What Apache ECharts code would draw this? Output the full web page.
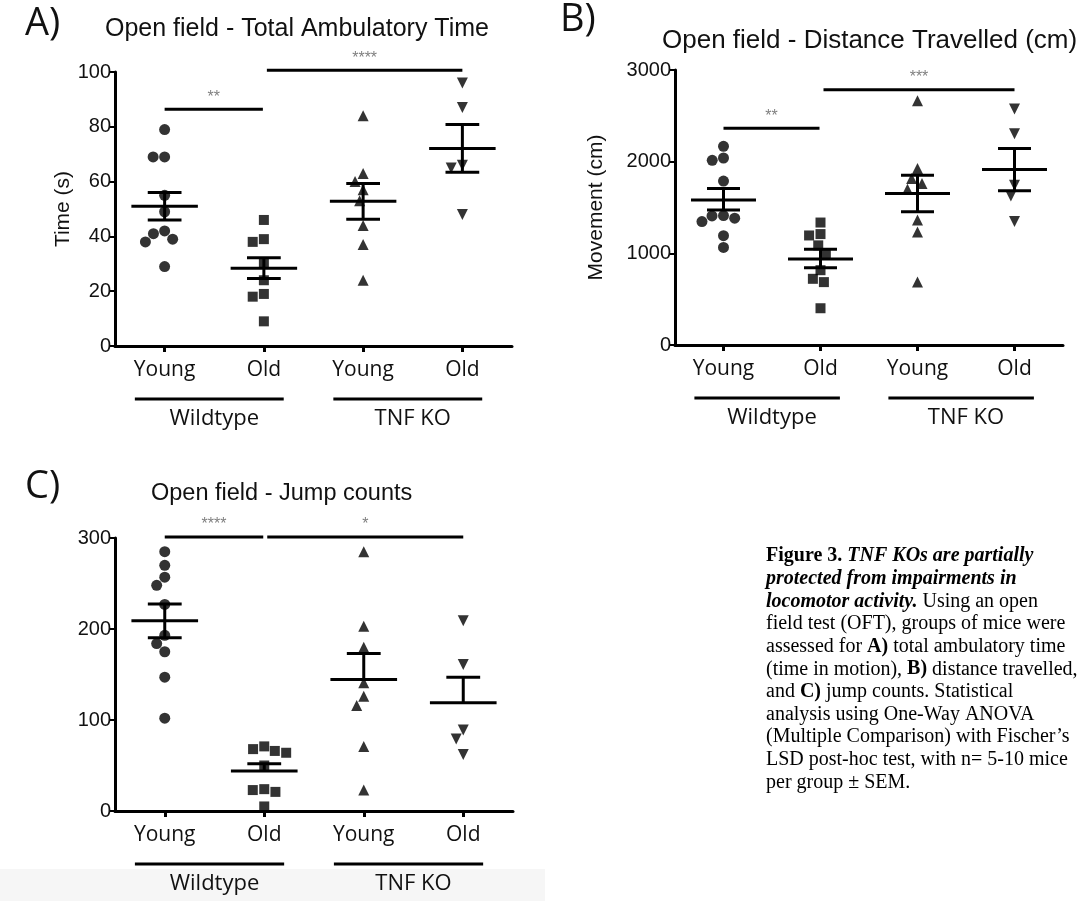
<!DOCTYPE html>
<html><head><meta charset="utf-8">
<script src="https://cdn.jsdelivr.net/npm/echarts@6/dist/echarts.min.js"></script>
<style>html,body{margin:0;padding:0;background:#fff}#chart{width:1091px;height:901px}</style>
</head><body><div id="chart"></div>
<script>
// ---------- data ----------
const categories = ['Young', 'Old', 'Young', 'Old'];
const groupNames = ['Wildtype', 'TNF KO'];
const groupFrom = [0, 2];
const groupTo = [1, 3];

// A) Total ambulatory time (s)
const timeWTYoung = [79, 69, 69, 55, 49, 42, 41, 39, 38, 29];
const timeWTOld = [46, 39, 38, 30, 24, 19, 18, 9];
const timeKOYoung = [84, 63, 60, 57, 53, 44, 37, 24];
const timeKOOld = [96, 87, 66, 65, 48];
const timeMean = [51, 28.4, 52.8, 72.1];
const timeSemUp = [5, 3.8, 6.5, 8.7];
const timeSemDown = [5, 3.8, 6.5, 8.7];
const timeSigFrom = [0, 1];
const timeSigTo = [1, 3];
const timeSigLevel = [86.4, 100.6];
const timeSigLabel = ['**', '****'];

// B) Distance travelled (cm)
const distWTYoung = [2167, 2040, 2015, 1788, 1412, 1408, 1383, 1347, 1192, 1065];
const distWTOld = [1336, 1210, 1195, 1087, 993, 816, 722, 686, 401];
const distKOYoung = [2665, 1925, 1817, 1762, 1700, 1365, 1232, 686];
const distKOOld = [2575, 2304, 1744, 1625, 1347];
const distMean = [1582, 939, 1654, 1914];
const distSemUp = [124, 106, 199, 231];
const distSemDown = [110, 97, 199, 231];
const distSigFrom = [0, 1];
const distSigTo = [1, 3];
const distSigLevel = [2365, 2784];
const distSigLabel = ['**', '***'];

// C) Jump counts
const jumpWTYoung = [285, 270, 257, 248, 227, 193, 184, 175, 147, 102];
const jumpWTOld = [71, 68, 66, 64, 50, 24, 23, 21, 5];
const jumpKOYoung = [285, 203, 180, 141, 126, 116, 71, 23];
const jumpKOOld = [209, 161, 89, 79, 62];
const jumpMean = [209, 44, 144.5, 119];
const jumpSemUp = [18.5, 8, 28.5, 28];
const jumpSemDown = [18.5, 0, 0, 0];
const jumpSigFrom = [0, 1];
const jumpSigTo = [1, 3];
const jumpSigLevel = [301, 301];
const jumpSigLabel = ['****', '*'];

// ---------- layout / style ----------
const SANS = '"Liberation Sans", Arial, sans-serif';
const HUMAN = '"Open Sans", "Noto Sans", sans-serif';
const SERIF = '"Liberation Serif", "Times New Roman", serif';
const symbols = ['circle', 'rect', 'triangle', 'triangle'];
const symbolRot = [0, 0, 0, 180];
const symbolSizes = [11, 10, 11, 11];

const panels = [
  { grid: { left: 115, top: 72, width: 397, height: 274 }, max: 100, interval: 20, yName: 'Time (s)', nameGap: 32,
    groups: [timeWTYoung, timeWTOld, timeKOYoung, timeKOOld], mean: timeMean, up: timeSemUp, down: timeSemDown,
    sigFrom: timeSigFrom, sigTo: timeSigTo, sigLevel: timeSigLevel, sigLabel: timeSigLabel },
  { grid: { left: 675, top: 70, width: 388, height: 275 }, max: 3000, interval: 1000, yName: 'Movement (cm)', nameGap: 68,
    groups: [distWTYoung, distWTOld, distKOYoung, distKOOld], mean: distMean, up: distSemUp, down: distSemDown,
    sigFrom: distSigFrom, sigTo: distSigTo, sigLevel: distSigLevel, sigLabel: distSigLabel },
  { grid: { left: 115, top: 538, width: 398, height: 273 }, max: 300, interval: 100, yName: '', nameGap: 40,
    groups: [jumpWTYoung, jumpWTOld, jumpKOYoung, jumpKOOld], mean: jumpMean, up: jumpSemUp, down: jumpSemDown,
    sigFrom: jumpSigFrom, sigTo: jumpSigTo, sigLevel: jumpSigLevel, sigLabel: jumpSigLabel }
];

// beeswarm layout: horizontal pixel offsets so that markers do not overlap
function swarm(vals, pxPerUnit, D) {
  const order = vals.map((v, i) => i).sort((a, b) => vals[b] - vals[a]);
  const placed = [];
  const off = new Array(vals.length).fill(0);
  for (const i of order) {
    const y = vals[i] * pxPerUnit;
    const forb = [];
    for (const p of placed) {
      const dy = Math.abs(p.y - y);
      if (dy < D) { const h = Math.sqrt(D * D - dy * dy); forb.push([p.x - h, p.x + h]); }
    }
    const cands = [0];
    forb.forEach(f => cands.push(f[0], f[1]));
    cands.sort((a, b) => (Math.abs(a) - Math.abs(b)) || (a - b));
    let x = 0;
    for (const c of cands) {
      if (forb.every(f => c <= f[0] + 1e-6 || c >= f[1] - 1e-6)) { x = c; break; }
    }
    placed.push({ x, y });
    off[i] = x;
  }
  return off;
}

const grids = [], xAxes = [], yAxes = [], series = [];

panels.forEach((P, k) => {
  grids.push(Object.assign({ containLabel: false }, P.grid));
  xAxes.push({
    type: 'category', gridIndex: k, data: categories, boundaryGap: true,
    axisLine: { show: true, lineStyle: { color: '#000', width: 3 } },
    axisTick: { show: true, alignWithLabel: true, length: 6, lineStyle: { color: '#000', width: 3 } },
    axisLabel: { margin: 14, color: '#111', fontSize: 21, fontFamily: HUMAN, interval: 0 },
    splitLine: { show: false }
  });
  yAxes.push({
    type: 'value', gridIndex: k, min: 0, max: P.max, interval: P.interval,
    name: P.yName, nameLocation: 'middle', nameGap: P.nameGap,
    nameTextStyle: { color: '#111', fontSize: 21, fontFamily: SANS },
    axisLine: { show: true, lineStyle: { color: '#000', width: 3 } },
    axisTick: { show: true, length: 5, lineStyle: { color: '#000', width: 2 } },
    axisLabel: { margin: 4, color: '#111', fontSize: 20, fontFamily: SANS, formatter: v => String(v) },
    splitLine: { show: false }
  });

  const pxPerUnit = P.grid.height / P.max;

  // scatter points
  P.groups.forEach((vals, g) => {
    const offs = swarm(vals, pxPerUnit, 11.5);
    series.push({
      type: 'scatter', xAxisIndex: k, yAxisIndex: k, z: 2,
      symbol: symbols[g], symbolRotate: symbolRot[g], symbolSize: symbolSizes[g],
      itemStyle: { color: '#000' }, silent: true,
      data: vals.map((v, i) => ({ value: [g, v], symbolOffset: [offs[i], 0] }))
    });
  });

  // mean + SEM bars
  series.push({
    type: 'custom', xAxisIndex: k, yAxisIndex: k, z: 3, clip: false, silent: true,
    data: P.mean.map((m, i) => [i, m, P.up[i], P.down[i]]),
    renderItem: function (params, api) {
      const i = api.value(0), m = api.value(1), up = api.value(2), dn = api.value(3);
      const c = api.coord([i, m]);
      const band = api.size([1, 0])[0];
      const top = api.coord([i, m + up])[1];
      const bot = api.coord([i, m - dn])[1];
      const st = { stroke: '#000', lineWidth: 3 };
      const hw = band * 0.335, cw = band * 0.17;
      const ch = [
        { type: 'line', shape: { x1: c[0] - hw, y1: c[1], x2: c[0] + hw, y2: c[1] }, style: st },
        { type: 'line', shape: { x1: c[0], y1: top, x2: c[0], y2: bot }, style: st },
        { type: 'line', shape: { x1: c[0] - cw, y1: top, x2: c[0] + cw, y2: top }, style: st }
      ];
      if (dn > 0) ch.push({ type: 'line', shape: { x1: c[0] - cw, y1: bot, x2: c[0] + cw, y2: bot }, style: st });
      return { type: 'group', children: ch };
    }
  });

  // significance bars
  series.push({
    type: 'custom', xAxisIndex: k, yAxisIndex: k, z: 3, clip: false, silent: true,
    data: P.sigLevel.map((lv, j) => [P.sigFrom[j], P.sigTo[j], lv]),
    renderItem: function (params, api) {
      const j = params.dataIndex;
      const a = api.value(0), b = api.value(1), lv = api.value(2);
      const p1 = api.coord([a, lv]), p2 = api.coord([b, lv]);
      const x1 = p1[0] + (j > 0 ? 3 : 0);
      const x2 = p2[0] - (j === 0 ? 1 : 0);
      return { type: 'group', children: [
        { type: 'line', shape: { x1: x1, y1: p1[1], x2: x2, y2: p1[1] }, style: { stroke: '#000', lineWidth: 3 } },
        { type: 'text', style: { text: P.sigLabel[j], x: (x1 + x2) / 2, y: p1[1] - 12, align: 'center', verticalAlign: 'middle',
          fontSize: 16, fontFamily: SANS, fill: '#808080' } }
      ] };
    }
  });

  // group underline + group names
  series.push({
    type: 'custom', xAxisIndex: k, yAxisIndex: k, z: 3, clip: false, silent: true,
    data: groupFrom.map((f, j) => [f, groupTo[j]]),
    renderItem: function (params, api) {
      const j = params.dataIndex;
      const p1 = api.coord([api.value(0), 0]), p2 = api.coord([api.value(1), 0]);
      const band = api.size([1, 0])[0];
      const ly = p1[1] + 53;
      return { type: 'group', children: [
        { type: 'line', shape: { x1: p1[0] - band * 0.3, y1: ly, x2: p2[0] + band * 0.2, y2: ly }, style: { stroke: '#000', lineWidth: 3 } },
        { type: 'text', style: { text: groupNames[j], x: (p1[0] + p2[0]) / 2, y: ly + 20, align: 'center', verticalAlign: 'middle',
          fontSize: 22, fontFamily: HUMAN, fill: '#111' } }
      ] };
    }
  });
});

const caption =
  '{b|Figure 3. }{bi|TNF KOs are partially}\n' +
  '{bi|protected from impairments in}\n' +
  '{bi|locomotor activity.}{n| Using an open}\n' +
  '{n|field test (OFT), groups of mice were}\n' +
  '{n|assessed for }{b|A)}{n| total ambulatory time}\n' +
  '{n|(time in motion), }{b|B)}{n| distance travelled,}\n' +
  '{n|and }{b|C)}{n| jump counts. Statistical}\n' +
  '{n|analysis using One-Way ANOVA}\n' +
  '{n|(Multiple Comparison) with Fischer\u2019s}\n' +
  '{n|LSD post-hoc test, with n= 5-10 mice}\n' +
  '{n|per group \u00b1 SEM.}';

const titleStyle = (s) => ({ color: '#111', fontSize: s, fontWeight: 'normal', fontFamily: SANS });
const letterStyle = { color: '#111', fontSize: 38, fontWeight: 'normal', fontFamily: HUMAN };

const option = {
  backgroundColor: '#fff',
  animation: false,
  title: [
    { text: 'A)', left: 20, top: 0, textStyle: letterStyle },
    { text: 'Open field - Total Ambulatory Time', left: 100, top: 12, textStyle: titleStyle(25) },
    { text: 'B)', left: 555, top: -4, textStyle: letterStyle },
    { text: 'Open field - Distance Travelled (cm)', left: 657, top: 23, textStyle: titleStyle(26) },
    { text: 'C)', left: 20, top: 463, textStyle: letterStyle },
    { text: 'Open field - Jump counts', left: 146, top: 477, textStyle: titleStyle(23.5) }
  ],
  graphic: [
    { type: 'rect', z: -10, shape: { x: 0, y: 869, width: 545, height: 32 }, style: { fill: '#f6f6f6' } },
    { type: 'text', left: 766, top: 545, style: {
      text: caption, lineHeight: 22.6, fill: '#000',
      rich: {
        b: { fontFamily: SERIF, fontSize: 20, fontWeight: 'bold', lineHeight: 22.6 },
        bi: { fontFamily: SERIF, fontSize: 20, fontWeight: 'bold', fontStyle: 'italic', lineHeight: 22.6 },
        n: { fontFamily: SERIF, fontSize: 20, lineHeight: 22.6 }
      }
    } }
  ],
  grid: grids, xAxis: xAxes, yAxis: yAxes, series: series
};

const chart = echarts.init(document.getElementById('chart'), null, { renderer: 'canvas' });
chart.setOption(option);
</script>
</body></html>
